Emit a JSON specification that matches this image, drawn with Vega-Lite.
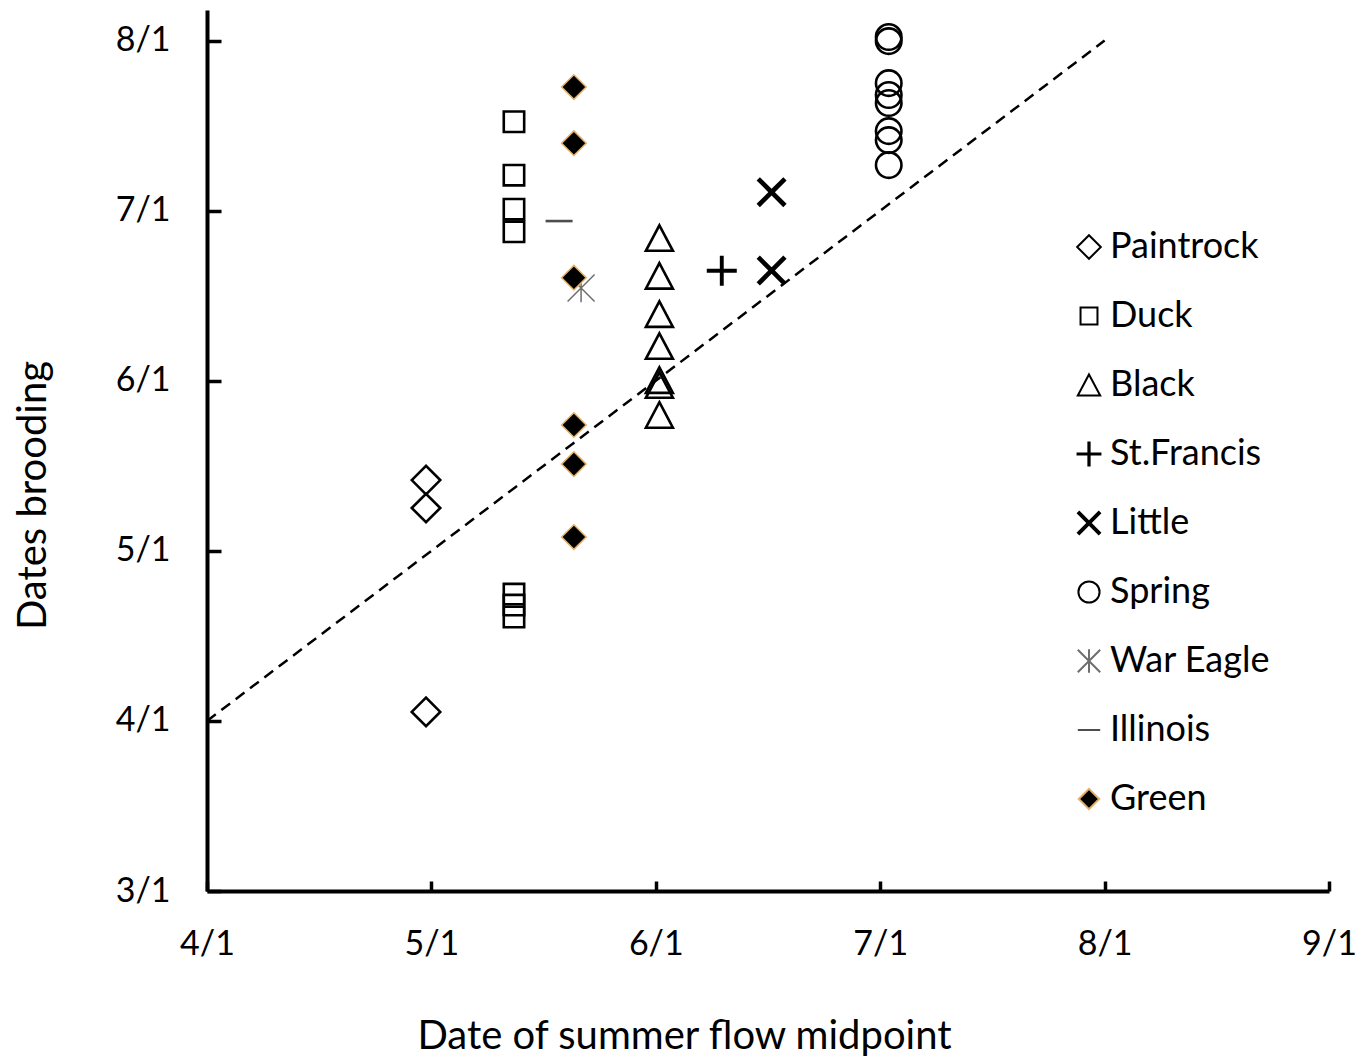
{
  "$schema": "https://vega.github.io/schema/vega-lite/v6.json",
  "width": 1122,
  "height": 881,
  "autosize": {"type": "none"},
  "padding": {"left": 207, "top": 10, "right": 31, "bottom": 166},
  "background": "white",
  "config": {
    "view": {"stroke": null},
    "font": "Lato",
    "axis": {"grid": false, "domainColor": "black", "domainWidth": 4, "tickColor": "black", "tickWidth": 3.5, "labelColor": "black", "titleColor": "black", "labelFont": "Lato", "titleFont": "Lato", "titleFontWeight": "normal", "labelOverlap": false, "labelFlush": false}
  },
  "datasets": {
    "obs": [
      {"river": "Paintrock", "flow": 4.976, "brood": 5.416},
      {"river": "Paintrock", "flow": 4.976, "brood": 5.252},
      {"river": "Paintrock", "flow": 4.976, "brood": 4.053},
      {"river": "Duck", "flow": 5.368, "brood": 7.523},
      {"river": "Duck", "flow": 5.368, "brood": 7.209},
      {"river": "Duck", "flow": 5.368, "brood": 7.009},
      {"river": "Duck", "flow": 5.368, "brood": 6.876},
      {"river": "Duck", "flow": 5.368, "brood": 4.746},
      {"river": "Duck", "flow": 5.368, "brood": 4.681},
      {"river": "Duck", "flow": 5.368, "brood": 4.611},
      {"river": "Black", "flow": 6.016, "brood": 6.839},
      {"river": "Black", "flow": 6.016, "brood": 6.617},
      {"river": "Black", "flow": 6.016, "brood": 6.392},
      {"river": "Black", "flow": 6.016, "brood": 6.204},
      {"river": "Black", "flow": 6.016, "brood": 6.004},
      {"river": "Black", "flow": 6.016, "brood": 5.975},
      {"river": "Black", "flow": 6.016, "brood": 5.799},
      {"river": "St.Francis", "flow": 6.294, "brood": 6.647},
      {"river": "Little", "flow": 6.516, "brood": 7.109},
      {"river": "Little", "flow": 6.516, "brood": 6.648},
      {"river": "Spring", "flow": 7.038, "brood": 8.021},
      {"river": "Spring", "flow": 7.038, "brood": 7.997},
      {"river": "Spring", "flow": 7.038, "brood": 7.750},
      {"river": "Spring", "flow": 7.038, "brood": 7.680},
      {"river": "Spring", "flow": 7.038, "brood": 7.633},
      {"river": "Spring", "flow": 7.038, "brood": 7.468},
      {"river": "Spring", "flow": 7.038, "brood": 7.415},
      {"river": "Spring", "flow": 7.038, "brood": 7.268},
      {"river": "War Eagle", "flow": 5.667, "brood": 6.545},
      {"river": "Illinois", "flow": 5.569, "brood": 6.939},
      {"river": "Green", "flow": 5.635, "brood": 7.727},
      {"river": "Green", "flow": 5.635, "brood": 7.397},
      {"river": "Green", "flow": 5.635, "brood": 6.606},
      {"river": "Green", "flow": 5.635, "brood": 5.740},
      {"river": "Green", "flow": 5.635, "brood": 5.510},
      {"river": "Green", "flow": 5.635, "brood": 5.081}
    ],
    "oneToOne": [
      {"flow": 4, "brood": 4},
      {"flow": 8, "brood": 8}
    ]
  },
  "layer": [
    {
      "data": {"name": "obs"},
      "mark": {"type": "point", "size": 900, "opacity": 1},
      "encoding": {
        "x": {
          "field": "flow", "type": "quantitative",
          "scale": {"domain": [4, 9], "nice": false, "zero": false},
          "axis": {
            "values": [4, 5, 6, 7, 8, 9],
            "labelExpr": "datum.value + '/1'",
            "tickSize": -10,
            "labelPadding": 46,
            "labelFontSize": 34,
            "title": "Date of summer flow midpoint",
            "titleFontSize": 40,
            "titlePadding": 55,
            "titleX": 477
          }
        },
        "y": {
          "field": "brood", "type": "quantitative",
          "scale": {"domain": [3, 8.18], "nice": false, "zero": false},
          "axis": {
            "values": [3, 4, 5, 6, 7, 8],
            "labelExpr": "datum.value + '/1'",
            "tickSize": -14,
            "labelPadding": 51,
            "labelFontSize": 34,
            "title": "Dates brooding",
            "titleFontSize": 40,
            "titlePadding": 62,
            "titleY": 485
          }
        },
        "shape": {
          "field": "river", "type": "nominal",
          "scale": {
            "domain": ["Paintrock", "Duck", "Black", "St.Francis", "Little", "Spring", "War Eagle", "Illinois", "Green"],
            "range": [
              "M-0.95,0L0,-0.95L0.95,0L0,0.95Z",
              "M-0.68,-0.68L0.68,-0.68L0.68,0.68L-0.68,0.68Z",
              "M0,-0.85L0.9,0.85L-0.9,0.85Z",
              "M-0.13,-1L0.13,-1L0.13,-0.13L1,-0.13L1,0.13L0.13,0.13L0.13,1L-0.13,1L-0.13,0.13L-1,0.13L-1,-0.13L-0.13,-0.13Z",
              "M0,-0.22L0.78,-1L1,-0.78L0.22,0L1,0.78L0.78,1L0,0.22L-0.78,1L-1,0.78L-0.22,0L-1,-0.78L-0.78,-1Z",
              "M0.85,0A0.85,0.85,0,1,1,-0.85,0A0.85,0.85,0,1,1,0.85,0Z",
              "M-0.9,-0.9L0.9,0.9M-0.9,0.9L0.9,-0.9M0,-0.95L0,0.95",
              "M-0.9,0L0.9,0",
              "M-0.82,0L0,-0.82L0.82,0L0,0.82Z"
            ]
          },
          "legend": {
            "title": null,
            "orient": "none",
            "legendX": 864,
            "legendY": 219,
            "symbolSize": 620,
            "labelFontSize": 36,
            "labelColor": "black",
            "labelFont": "Lato",
            "labelLimit": 0,
            "labelOffset": 3,
            "rowPadding": 33,
            "symbolStrokeWidth": 2,
            "encode": {
              "symbols": {
                "update": {
                  "strokeWidth": {"signal": "datum.value === 'Green' || datum.value === 'War Eagle' ? 1.3 : 2.2"}
                }
              }
            }
          }
        },
        "fill": {
          "field": "river", "type": "nominal",
          "scale": {
            "domain": ["Paintrock", "Duck", "Black", "St.Francis", "Little", "Spring", "War Eagle", "Illinois", "Green"],
            "range": ["transparent", "transparent", "transparent", "black", "black", "transparent", "transparent", "transparent", "black"]
          },
          "legend": null
        },
        "stroke": {
          "field": "river", "type": "nominal",
          "scale": {
            "domain": ["Paintrock", "Duck", "Black", "St.Francis", "Little", "Spring", "War Eagle", "Illinois", "Green"],
            "range": ["black", "black", "black", "transparent", "transparent", "black", "#6e6e6e", "#4d4d4d", "#e2b06a"]
          },
          "legend": null
        },
        "strokeWidth": {
          "condition": {"test": "datum.river === 'Green' || datum.river === 'War Eagle'", "value": 1.5},
          "value": 2.6
        }
      }
    },
    {
      "data": {"name": "oneToOne"},
      "mark": {"type": "line", "color": "black", "strokeWidth": 2.5, "strokeDash": [11, 7]},
      "encoding": {
        "x": {"field": "flow", "type": "quantitative"},
        "y": {"field": "brood", "type": "quantitative"}
      }
    }
  ]
}
